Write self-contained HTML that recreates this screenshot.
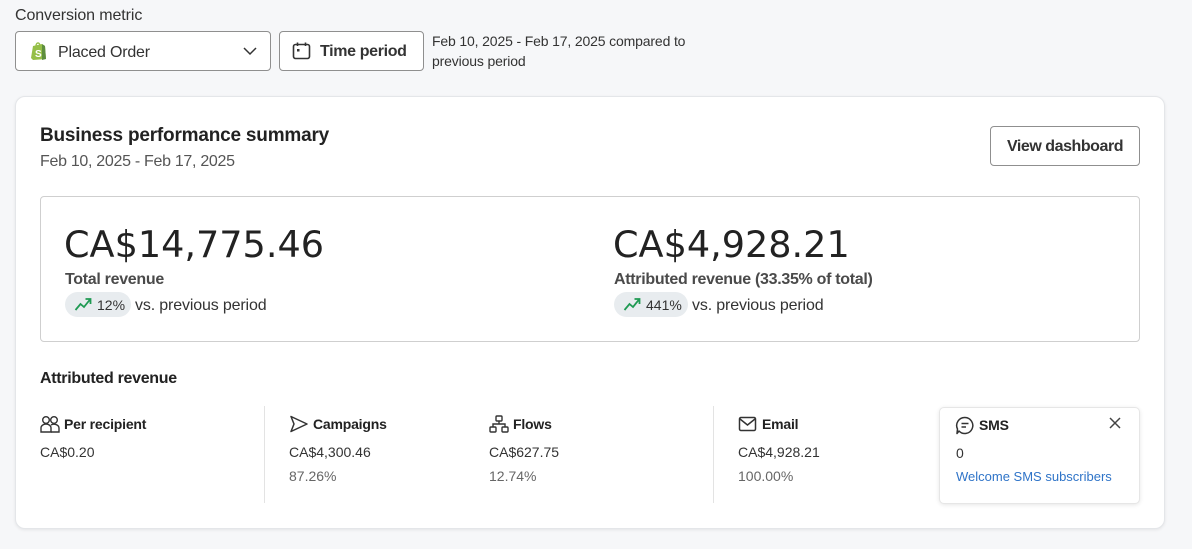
<!DOCTYPE html>
<html><head><meta charset="utf-8"><style>
*{box-sizing:border-box;margin:0;padding:0}
html,body{width:1192px;height:549px;overflow:hidden;background:#f6f7f9;font-family:"Liberation Sans",Arial,sans-serif;color:#222}
.a{position:absolute;white-space:nowrap}
.btn{position:absolute;border:1px solid #8f8f8f;border-radius:4px;background:#fff}
.card{position:absolute;left:15px;top:96px;width:1150px;height:433px;background:#fff;border:1px solid #e4e6e9;border-radius:10px;box-shadow:0 1px 3px rgba(0,0,0,.08)}
.big{font-family:"DejaVu Sans",sans-serif;font-size:36.6px;color:#222;line-height:40px}
.lbl{font-size:16px;font-weight:bold;color:#4a4a4a;letter-spacing:-0.3px;line-height:20px}
.pill{position:absolute;height:25px;border-radius:13px;background:#e8ecef;font-size:14px;line-height:25px;color:#333}
.vs{font-size:16px;color:#333;line-height:20px;letter-spacing:-0.15px}
.h{font-size:14px;font-weight:bold;color:#222;line-height:18px;letter-spacing:-0.2px}
.v{font-size:14px;color:#333;line-height:18px}
.p{font-size:14px;color:#666;line-height:18px}
svg{position:absolute}
</style></head><body>

<div class="a" style="left:15px;top:6px;font-size:16px;line-height:20px;color:#333;letter-spacing:-0.1px">Conversion metric</div>

<div class="btn" style="left:15px;top:31px;width:256px;height:40px"></div>
<svg style="left:30px;top:41px" width="18" height="20" viewBox="0 0 18 20">
<path d="M3 5 L12 3 L15 5 L16 18 L3 19 L1 17 Z" fill="#95bf47"/>
<path d="M12 3 L15 5 L16 18 L12 19 Z" fill="#5e8e3e"/>
<path d="M6 5 C6 1 10 1 10 5" stroke="#95bf47" stroke-width="1.4" fill="none"/>
<text x="5" y="16" font-family="Liberation Sans" font-weight="bold" font-size="10" fill="#fff">S</text>
</svg>
<div class="a" style="left:58px;top:43px;font-size:16px;line-height:20px;color:#333;letter-spacing:-0.2px">Placed Order</div>
<svg style="left:242px;top:45px" width="16" height="12" viewBox="0 0 16 12"><path d="M2 3 L8 9 L14 3" stroke="#333" stroke-width="1.5" fill="none"/></svg>

<div class="btn" style="left:279px;top:31px;width:145px;height:40px"></div>
<svg style="left:292px;top:42px" width="19" height="18" viewBox="0 0 19 18"><rect x="1.5" y="2.5" width="16" height="14" rx="2" stroke="#333" stroke-width="1.6" fill="none"/><line x1="5.5" y1="0.5" x2="5.5" y2="4" stroke="#333" stroke-width="1.6"/><line x1="13.5" y1="0.5" x2="13.5" y2="4" stroke="#333" stroke-width="1.6"/><rect x="5" y="7" width="2.5" height="2.5" fill="#333"/></svg>
<div class="a" style="left:320px;top:42px;font-size:16px;font-weight:bold;line-height:20px;color:#333;letter-spacing:-0.35px">Time period</div>

<div class="a" style="left:432px;top:31px;font-size:14px;line-height:20px;color:#333;letter-spacing:-0.15px">Feb 10, 2025 - Feb 17, 2025 compared to<br>previous period</div>

<div class="card"></div>
<div class="a" style="left:40px;top:125px;font-size:19px;font-weight:bold;line-height:22px;color:#222;letter-spacing:-0.2px">Business performance summary</div>
<div class="a" style="left:40px;top:152px;font-size:16px;line-height:20px;color:#555;letter-spacing:-0.3px">Feb 10, 2025 - Feb 17, 2025</div>

<div class="btn" style="left:990px;top:126px;width:150px;height:40px"></div>
<div class="a" style="left:990px;top:137px;width:150px;text-align:center;font-size:16px;font-weight:bold;line-height:20px;color:#333;letter-spacing:-0.45px">View dashboard</div>

<div style="position:absolute;left:40px;top:196px;width:1100px;height:146px;border:1px solid #cfcfcf;border-radius:4px"></div>

<div class="a big" style="left:64px;top:225px">CA$14,775.46</div>
<div class="a lbl" style="left:65px;top:270px">Total revenue</div>
<div class="pill" style="left:65px;top:292px;width:66px"></div>
<svg style="left:74px;top:296px" width="18" height="16" viewBox="0 0 18 16"><path d="M1.5 14 L6.5 8 L10 11 L16 3.5 M11.5 3 L16.5 3 L16.5 8" stroke="#1f9a53" stroke-width="1.8" fill="none"/></svg>
<div class="a" style="left:97px;top:293px;font-size:14px;line-height:25px;color:#333">12%</div>
<div class="a vs" style="left:135px;top:296px">vs. previous period</div>

<div class="a big" style="left:613px;top:225px">CA$4,928.21</div>
<div class="a lbl" style="left:614px;top:270px">Attributed revenue (33.35% of total)</div>
<div class="pill" style="left:614px;top:292px;width:74px"></div>
<svg style="left:623px;top:296px" width="18" height="16" viewBox="0 0 18 16"><path d="M1.5 14 L6.5 8 L10 11 L16 3.5 M11.5 3 L16.5 3 L16.5 8" stroke="#1f9a53" stroke-width="1.8" fill="none"/></svg>
<div class="a" style="left:646px;top:293px;font-size:14px;line-height:25px;color:#333">441%</div>
<div class="a vs" style="left:692px;top:296px">vs. previous period</div>

<div class="a" style="left:40px;top:369px;font-size:16px;font-weight:bold;line-height:20px;color:#222;letter-spacing:-0.3px">Attributed revenue</div>

<!-- stats -->
<svg style="left:40px;top:415px" width="20" height="18" viewBox="0 0 20 18"><circle cx="6" cy="5" r="3.3" stroke="#333" stroke-width="1.4" fill="none"/><path d="M1 17 V13 A5 4 0 0 1 11 13 V17 Z" stroke="#333" stroke-width="1.4" fill="none"/><circle cx="14" cy="5" r="3.3" stroke="#333" stroke-width="1.4" fill="none"/><path d="M11 10 A5 4 0 0 1 19 13 V17 H11" stroke="#333" stroke-width="1.4" fill="none"/></svg>
<div class="a h" style="left:64px;top:415px">Per recipient</div>
<div class="a v" style="left:40px;top:443px">CA$0.20</div>

<div style="position:absolute;left:264px;top:406px;width:1px;height:97px;background:#e3e3e3"></div>

<svg style="left:289px;top:415px" width="20" height="18" viewBox="0 0 20 18"><path d="M2 1.5 L18 9 L2 16.5 L5 9 Z" stroke="#333" stroke-width="1.5" fill="none" stroke-linejoin="round"/></svg>
<div class="a h" style="left:313px;top:415px">Campaigns</div>
<div class="a v" style="left:289px;top:443px">CA$4,300.46</div>
<div class="a p" style="left:289px;top:467px">87.26%</div>

<svg style="left:489px;top:415px" width="20" height="18" viewBox="0 0 20 18"><rect x="7" y="1" width="6" height="5" rx="1" stroke="#333" stroke-width="1.4" fill="none"/><rect x="1" y="12" width="6" height="5" rx="1" stroke="#333" stroke-width="1.4" fill="none"/><rect x="13" y="12" width="6" height="5" rx="1" stroke="#333" stroke-width="1.4" fill="none"/><path d="M10 6 V9 M4 12 V9 H16 V12" stroke="#333" stroke-width="1.4" fill="none"/></svg>
<div class="a h" style="left:513px;top:415px">Flows</div>
<div class="a v" style="left:489px;top:443px">CA$627.75</div>
<div class="a p" style="left:489px;top:467px">12.74%</div>

<div style="position:absolute;left:713px;top:406px;width:1px;height:97px;background:#e3e3e3"></div>

<svg style="left:738px;top:415px" width="20" height="18" viewBox="0 0 20 18"><rect x="1.5" y="2.5" width="16" height="13" rx="1.5" stroke="#333" stroke-width="1.5" fill="none"/><path d="M2 4 L9.5 10 L17 4" stroke="#333" stroke-width="1.5" fill="none"/></svg>
<div class="a h" style="left:762px;top:415px">Email</div>
<div class="a v" style="left:738px;top:443px">CA$4,928.21</div>
<div class="a p" style="left:738px;top:467px">100.00%</div>

<div style="position:absolute;left:939px;top:407px;width:201px;height:97px;background:#fff;border:1px solid #e6e6e6;border-radius:5px;box-shadow:0 1px 4px rgba(0,0,0,.1)"></div>
<svg style="left:955px;top:416px" width="20" height="19" viewBox="0 0 20 19"><path d="M10 1.5 A8 8 0 1 1 4 15 L2 17.5 L2.5 13 A8 8 0 0 1 10 1.5 Z" stroke="#333" stroke-width="1.5" fill="none" stroke-linejoin="round"/><path d="M6.5 7.5 H13.5 M6.5 11 H11" stroke="#333" stroke-width="1.5"/></svg>
<div class="a h" style="left:979px;top:416px">SMS</div>
<svg style="left:1108px;top:416px" width="14" height="14" viewBox="0 0 14 14"><path d="M2 2 L12 12 M12 2 L2 12" stroke="#444" stroke-width="1.5"/></svg>
<div class="a v" style="left:956px;top:444px">0</div>
<div class="a" style="left:956px;top:468px;font-size:13px;line-height:17px;color:#2f74c8">Welcome SMS subscribers</div>

</body></html>
